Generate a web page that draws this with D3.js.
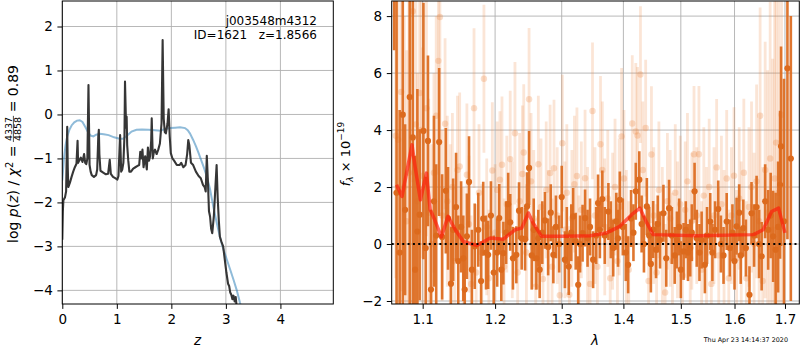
<!DOCTYPE html>
<html><head><meta charset="utf-8">
<script src="https://cdn.jsdelivr.net/npm/d3@7"></script>
<style>
body{margin:0;background:#fff;}
text{font-family:"DejaVu Sans",sans-serif;}
</style></head>
<body><svg id="c" width="800" height="350"></svg>
<script>
// ---------- Left panel data: log p(z) ----------
const zPz = [0.00,0.01,0.02,0.05,0.07,0.09,0.10,0.11,0.14,0.17,0.20,0.23,0.26,0.28,0.29,0.31,0.34,0.37,0.40,0.42,0.44,0.46,0.48,0.50,0.52,0.54,0.58,0.62,0.64,0.66,0.67,0.68,0.70,0.75,0.80,0.84,0.87,0.89,0.93,0.97,1.01,1.03,1.06,1.08,1.10,1.12,1.14,1.15,1.17,1.18,1.19,1.21,1.23,1.26,1.30,1.34,1.38,1.41,1.43,1.45,1.47,1.49,1.52,1.55,1.57,1.59,1.61,1.63,1.64,1.66,1.68,1.70,1.73,1.76,1.79,1.82,1.84,1.86,1.88,1.90,1.93,1.95,1.97,1.99,2.02,2.05,2.10,2.15,2.18,2.22,2.26,2.29,2.31,2.33,2.36,2.40,2.45,2.50,2.54,2.58,2.61,2.63,2.65,2.67,2.69,2.71,2.73,2.75,2.78,2.81,2.83,2.85,2.87,2.89,2.92,2.95,2.98,3.01,3.04,3.06,3.08,3.10,3.12,3.14,3.16,3.18,3.20];
const logPz = [-2.85,-2.2,-1.95,-1.88,-1.75,-0.28,-1.2,-1.65,-1.55,-1.42,-1.3,-1.2,-1.12,-0.6,-1.1,-1.05,-0.98,-1.08,-0.9,-1.1,-1.13,-1.0,0.67,-1.15,-1.3,-1.38,-1.42,-1.38,-1.25,-0.5,-0.35,-0.9,-1.28,-1.32,-1.36,-1.35,-1.03,-1.35,-1.42,-1.45,-1.48,-1.4,-0.47,-1.3,-1.25,-1.1,-0.5,0.75,-0.3,-0.05,-0.7,-1.05,-1.3,-1.3,-1.23,-1.2,-1.17,-1.15,-0.85,-1.0,-0.8,-1.2,-0.95,-1.25,-0.75,-1.05,-0.95,-0.6,-0.09,-1.0,-0.85,-0.8,-0.9,-0.8,-0.66,-0.2,1.69,-0.1,-0.4,-0.43,-0.2,0.12,-0.5,-0.88,-1.0,-1.05,-1.15,-1.15,-1.1,-1.2,-1.15,-0.9,-0.58,-0.7,-1.1,-1.15,-1.3,-1.4,-1.45,-1.6,-1.65,-1.75,-0.94,-1.5,-2.2,-2.32,-2.6,-2.7,-2.3,-1.6,-1.15,-1.9,-2.4,-2.78,-2.9,-3.0,-3.3,-3.6,-3.85,-3.9,-4.05,-4.1,-4.2,-4.12,-4.25,-4.15,-4.4];
const zPrior = [0.00,0.03,0.06,0.09,0.13,0.17,0.22,0.27,0.32,0.37,0.42,0.47,0.52,0.57,0.62,0.69,0.76,0.85,0.95,1.05,1.12,1.19,1.27,1.36,1.46,1.58,1.70,1.80,1.88,1.98,2.07,2.16,2.25,2.30,2.34,2.40,2.45,2.50,2.55,2.60,2.65,2.71,2.77,2.83,2.89,2.95,3.02,3.08,3.14,3.20,3.26,3.30];
const logPrior = [-1.5,-1.0,-0.7,-0.5,-0.35,-0.25,-0.18,-0.14,-0.13,-0.17,-0.28,-0.4,-0.48,-0.5,-0.46,-0.44,-0.45,-0.47,-0.52,-0.55,-0.55,-0.48,-0.39,-0.35,-0.34,-0.35,-0.36,-0.37,-0.33,-0.31,-0.3,-0.29,-0.31,-0.36,-0.43,-0.58,-0.72,-0.88,-1.05,-1.22,-1.41,-1.7,-2.1,-2.45,-2.78,-3.05,-3.31,-3.53,-3.76,-4.0,-4.29,-4.45];
const zTicks = [0,1,2,3,4];
const pzTicks = [-4,-3,-2,-1,0,1,2];

// ---------- Right panel data: spectrum ----------
const lamA = [1.063,1.066,1.070,1.074,1.077,1.083,1.087,1.090,1.093,1.096,1.101,1.104,1.107,1.111,1.115,1.118,1.122,1.126,1.131,1.134,1.138,1.141,1.145,1.148,1.152,1.155,1.157,1.160,1.163,1.167,1.171,1.176,1.180,1.183,1.187,1.190,1.194,1.198,1.203,1.206,1.209,1.212,1.216,1.219,1.222,1.226,1.231,1.235,1.239,1.244,1.247,1.250,1.254,1.257,1.261,1.264,1.266,1.270,1.274,1.279,1.283,1.287,1.291,1.296,1.300,1.305,1.308,1.311,1.315,1.318,1.322,1.326,1.329,1.333,1.337,1.341,1.345,1.350,1.355,1.358,1.361,1.365,1.369,1.375,1.379,1.383,1.388,1.391,1.394,1.399,1.404,1.408,1.413,1.417,1.421,1.427,1.431,1.435,1.440,1.444,1.447,1.451,1.456,1.459,1.463,1.469,1.474,1.479,1.484,1.489,1.493,1.497,1.500,1.505,1.509,1.513,1.517,1.520,1.525,1.529,1.534,1.538,1.544,1.548,1.554,1.558,1.563,1.569,1.574,1.579,1.585,1.591,1.596,1.600,1.604,1.609,1.612,1.617,1.622,1.629,1.633,1.638,1.643,1.648,1.653,1.660,1.666,1.671,1.676,1.681,1.686,1.690,1.692,1.698,1.705,1.712];
const fluxA = [11.5,1.8,-0.3,4.54,1.2,5.16,3.74,-0.9,0.44,1.03,3.97,-0.14,3.62,-1.6,1.5,0.3,3.58,0.25,1.87,0.9,-1.39,0.5,1.3,-0.6,0.6,-0.5,-1.6,0.27,2.18,-0.9,-0.08,0.5,-1.3,0.89,-0.3,-0.38,1.0,-1.0,-0.3,0.91,-0.9,-0.32,0.4,1.4,0.76,-0.5,-0.38,1.17,0.2,0.17,1.32,2.67,-0.4,0.5,-0.5,0.2,-0.9,0.4,0.83,-0.1,1.1,-0.38,0.6,0.0,1.65,-0.55,0.3,-0.79,0.4,0.97,0.1,-1.43,0.0,0.38,0.91,0.2,0.6,-0.55,0.3,1.44,0.5,1.58,0.3,1.14,0.5,-0.14,0.8,0.2,1.55,0.6,-0.3,-0.73,0.9,0.4,1.85,2.26,0.7,0.0,1.32,0.3,-0.7,0.51,-0.2,0.7,0.14,1.08,-0.5,1.26,0.3,-0.4,0.14,0.6,-0.9,-0.26,0.5,-0.3,-0.14,0.4,1.85,0.2,-0.3,0.14,-0.73,0.3,0.79,-0.3,0.5,1.23,0.0,-0.4,0.79,-0.14,0.4,-0.6,0.62,1.1,-0.4,0.56,-0.14,-1.78,1.08,0.3,1.3,0.0,-0.43,1.5,0.5,1.0,0.27,-0.2,0.6,2.08,3.43,0.8,6.17,3.0];
const errA = [4.7,7,5,7,3,8,6,4,5,3,4.5,2.5,3,2.8,3,2.5,2.6,2.2,2.2,1.8,2,1.8,1.9,1.6,1.6,1.5,1.6,1.5,1.6,1.4,1.5,1.3,1.4,1.3,1.3,1.2,1.2,1.3,1.2,1.2,1.1,1.1,1.1,1.1,1.0,1.1,1.0,1.0,1.1,1.1,1.2,1.3,1.2,1.1,1.1,1.0,1.0,1.1,1.0,1.0,1.0,1.0,1.1,1.0,1.1,1.0,1.0,1.0,1.0,1.0,1.0,1.0,1.0,1.0,1.0,1.0,1.0,1.0,1.0,1.0,1.0,1.0,1.0,1.0,1.0,1.0,1.0,1.0,1.0,1.0,1.0,1.0,1.0,1.0,1.0,1.0,1.0,1.0,1.0,1.0,1.0,1.0,1.0,1.0,1.0,1.0,1.0,1.0,1.0,1.0,1.0,1.0,1.0,1.0,1.0,1.0,1.0,1.0,1.0,1.0,1.0,1.0,1.0,1.0,1.0,1.0,1.0,1.0,1.0,1.0,1.0,1.0,1.0,1.0,1.0,1.0,1.0,1.0,1.0,1.0,1.1,1.1,1.1,1.2,1.2,1.3,1.4,1.5,1.6,2.0,2.3,2.6,3.5,5,6,5,9,10];

const lamB = [1.065,1.068,1.072,1.076,1.079,1.082,1.087,1.091,1.093,1.096,1.098,1.100,1.105,1.108,1.112,1.115,1.118,1.121,1.123,1.126,1.130,1.133,1.137,1.140,1.143,1.147,1.150,1.155,1.160,1.163,1.166,1.170,1.173,1.177,1.181,1.184,1.188,1.191,1.196,1.200,1.203,1.207,1.210,1.213,1.217,1.222,1.225,1.229,1.233,1.236,1.240,1.242,1.246,1.250,1.253,1.257,1.260,1.264,1.268,1.271,1.276,1.279,1.282,1.285,1.288,1.293,1.297,1.301,1.305,1.308,1.312,1.316,1.320,1.324,1.327,1.331,1.337,1.341,1.345,1.349,1.353,1.357,1.362,1.365,1.369,1.374,1.378,1.382,1.386,1.390,1.393,1.397,1.401,1.405,1.409,1.415,1.421,1.424,1.429,1.433,1.438,1.443,1.448,1.452,1.457,1.461,1.467,1.472,1.476,1.481,1.485,1.490,1.494,1.499,1.503,1.508,1.512,1.517,1.520,1.524,1.529,1.533,1.538,1.542,1.547,1.552,1.556,1.561,1.566,1.570,1.575,1.580,1.585,1.589,1.594,1.599,1.604,1.609,1.613,1.618,1.623,1.628,1.633,1.638,1.643,1.648,1.650,1.655,1.660,1.665,1.670,1.675,1.679,1.682,1.687,1.693,1.698,1.702];
const fluxB = [3.8,3.66,5.34,2.0,0.8,2.5,8.17,4.2,1.5,5.3,4.0,2.4,4.77,1.1,0.0,2.5,4.5,6.43,7.97,1.0,4.22,1.5,0.7,2.0,-0.6,2.6,2.72,-0.5,2.43,0.7,-1.4,4.77,-1.0,1.8,-0.3,5.8,0.6,-1.2,2.58,0.4,1.9,2.26,2.78,-0.8,1.4,2.98,0.5,3.89,-1.0,1.5,2.46,3.21,-0.3,5.08,2.2,0.9,-1.5,2.8,1.3,-1.23,1.9,0.2,2.49,-0.8,2.66,1.0,-1.8,3.54,0.5,1.8,-1.78,0.9,2.1,2.39,-0.7,1.2,2.31,0.3,-1.4,4.67,1.0,-0.8,3.5,2.6,0.6,1.6,-1.2,0.8,2.0,-0.6,1.3,3.78,2.3,0.2,-0.9,4.23,3.95,3.81,5.95,2.6,4.07,-1.3,3.14,1.0,-1.0,1.9,0.3,-1.7,1.5,0.9,-0.6,1.8,0.5,1.4,-1.1,1.2,2.2,-0.5,0.8,3.15,1.0,3.15,-0.9,1.7,0.3,2.0,-1.4,1.0,2.69,-0.4,1.4,0.2,2.3,-1.2,1.0,2.4,-0.5,1.6,0.4,2.5,-1.2,1.3,2.0,0.0,2.2,0.8,4.5,-1.3,2.6,1.1,3.0,0.5,2.3,3.56,1.8,4.54,2.0,3.0];
const errB = [5,6,7,6,6,6,6,5,4.5,5,4.5,4.5,4.5,4,3.5,3.5,3.5,4,4.5,3,3,3,2.8,2.6,2.6,2.6,2.6,2.5,2.5,2.4,2.4,2.8,2.4,2.4,2.4,2.6,2.4,2.4,2.4,2.4,2.4,2.4,2.4,2.4,2.4,2.4,2.4,2.5,2.4,2.4,2.4,2.4,2.4,2.5,2.4,2.4,2.4,2.4,2.4,2.4,2.4,2.4,2.4,2.4,2.4,2.4,2.4,2.4,2.4,2.4,2.4,2.4,2.4,2.4,2.4,2.4,2.4,2.4,2.4,2.4,2.4,2.4,2.4,2.4,2.4,2.4,2.4,2.4,2.4,2.4,2.4,2.4,2.4,2.4,2.4,2.4,2.4,2.4,2.4,2.4,2.4,2.4,2.4,2.4,2.4,2.4,2.4,2.4,2.4,2.4,2.4,2.4,2.4,2.4,2.4,2.4,2.4,2.4,2.4,2.4,2.4,2.4,2.4,2.4,2.4,2.4,2.4,2.4,2.4,2.4,2.4,2.4,2.4,2.4,2.4,2.4,2.4,2.5,2.5,2.6,2.7,2.8,3.0,3.2,3.4,3.6,3.8,4.0,4.5,5,5.5,6,7,8,9,10];

const lamModel = [1.066,1.073,1.086,1.090,1.097,1.105,1.110,1.116,1.125,1.134,1.144,1.155,1.174,1.193,1.212,1.229,1.239,1.249,1.256,1.269,1.302,1.345,1.372,1.394,1.414,1.428,1.440,1.451,1.529,1.637,1.656,1.673,1.687,1.700];
const fluxModel = [2.08,1.67,3.48,2.72,1.55,2.49,1.20,0.85,0.25,0.97,0.50,0.09,-0.05,0.21,0.17,0.50,0.56,1.09,0.74,0.27,0.27,0.29,0.39,0.62,1.03,1.26,0.74,0.33,0.29,0.33,0.50,1.14,1.26,0.39];
const lamTicks = [1.1,1.2,1.3,1.4,1.5,1.6,1.7];
const fluxTicks = [-2,0,2,4,6,8];

// ---------- Drawing ----------
const svg = d3.select('#c');
const L = {x0:62.3, x1:333.3, y0:1, y1:304};
const R = {x0:391.7, x1:799.3, y0:1, y1:304};
const xL = d3.scaleLinear().domain([0,4.97]).range([L.x0,L.x1]);
const yL = d3.scaleLinear().domain([-4.31,2.58]).range([L.y1,L.y0]);
const xR = d3.scaleLog().domain([1.0598,1.7295]).range([R.x0,R.x1]);
const yR = d3.scaleLinear().domain([-2.105,8.53]).range([R.y1,R.y0]);
const gridC = '#b0b0b0', FS = 13.5;

const defs = svg.append('defs');
defs.append('clipPath').attr('id','cl').append('rect').attr('x',L.x0).attr('y',L.y0).attr('width',L.x1-L.x0).attr('height',L.y1-L.y0);
defs.append('clipPath').attr('id','cr').append('rect').attr('x',R.x0).attr('y',R.y0).attr('width',R.x1-R.x0).attr('height',R.y1-R.y0);

function grid(P, xs, ys, xt, yt){
  const g = svg.append('g');
  g.selectAll('.gx').data(xt).join('line').attr('x1',d=>xs(d)).attr('x2',d=>xs(d)).attr('y1',P.y0).attr('y2',P.y1).attr('stroke',gridC).attr('stroke-width',0.9);
  g.selectAll('.gy').data(yt).join('line').attr('y1',d=>ys(d)).attr('y2',d=>ys(d)).attr('x1',P.x0).attr('x2',P.x1).attr('stroke',gridC).attr('stroke-width',0.9);
}
function axes(P, xs, ys, xt, yt, xf, yf){
  const ax = svg.append('g').attr('transform',`translate(0,${P.y1})`)
    .call(d3.axisBottom(xs).tickValues(xt).tickFormat(xf).tickSize(4.9).tickPadding(5.2));
  const ay = svg.append('g').attr('transform',`translate(${P.x0},0)`)
    .call(d3.axisLeft(ys).tickValues(yt).tickFormat(yf).tickSize(4.9).tickPadding(4.6));
  [ax,ay].forEach(a=>{a.select('.domain').remove(); a.selectAll('text').attr('font-size',FS).attr('fill','#000').attr('font-family','DejaVu Sans');});
  svg.append('rect').attr('x',P.x0).attr('y',P.y0).attr('width',P.x1-P.x0).attr('height',P.y1-P.y0).attr('fill','none').attr('stroke','#000').attr('stroke-width',1);
}

// Left panel
grid(L, xL, yL, zTicks, pzTicks);
const gl = svg.append('g').attr('clip-path','url(#cl)');
gl.append('path').datum(d3.zip(zPrior,logPrior)).attr('d',d3.line().x(d=>xL(d[0])).y(d=>yL(d[1])))
  .attr('fill','none').attr('stroke','#1f77b4').attr('stroke-opacity',0.5).attr('stroke-width',2);
gl.append('path').datum(d3.zip(zPz,logPz)).attr('d',d3.line().x(d=>xL(d[0])).y(d=>yL(d[1])))
  .attr('fill','none').attr('stroke','#363636').attr('stroke-width',2.1).attr('stroke-linejoin','round');
axes(L, xL, yL, zTicks, pzTicks, d3.format('d'), d3.format('d'));
svg.append('text').attr('x',317).attr('y',24.5).attr('text-anchor','end').attr('font-size',12).text('j003548m4312');
svg.append('text').attr('x',317).attr('y',38.5).attr('text-anchor','end').attr('font-size',12).attr('xml:space','preserve').style('white-space','pre').text('ID=1621   z=1.8566');
svg.append('text').attr('x',xL(2.48)).attr('y',345).attr('text-anchor','middle').attr('font-size',FS).attr('font-style','italic').text('z');

// Left y label
{
  const g = svg.append('g').attr('transform','translate(18,154) rotate(-90)');
  const t1 = g.append('text').attr('font-size',14);
  t1.append('tspan').text('log ');
  t1.append('tspan').attr('font-style','italic').text('p');
  t1.append('tspan').text('(');
  t1.append('tspan').attr('font-style','italic').text('z');
  t1.append('tspan').text(') / ');
  t1.append('tspan').attr('font-style','italic').text('χ');
  t1.append('tspan').attr('font-size',10).attr('dy',-5.5).text('2');
  t1.append('tspan').attr('dy',5.5).text(' =');
  const w1 = t1.node().getComputedTextLength();
  const num = g.append('text').attr('font-size',9.5).attr('text-anchor','middle').text('4337');
  const den = g.append('text').attr('font-size',9.5).attr('text-anchor','middle').text('4858');
  const wf = Math.max(num.node().getComputedTextLength(), den.node().getComputedTextLength()) + 2;
  const t2 = g.append('text').attr('font-size',14).text('= 0.89');
  const w2 = t2.node().getComputedTextLength();
  const gap = 3.5;
  const total = w1 + gap + wf + gap + w2;
  const s = -total/2;
  t1.attr('x', s);
  const fc = s + w1 + gap + wf/2;
  num.attr('x', fc).attr('y', -6.3);
  den.attr('x', fc).attr('y', 2.8);
  g.append('line').attr('x1',fc-wf/2).attr('x2',fc+wf/2).attr('y1',-4.6).attr('y2',-4.6).attr('stroke','#000').attr('stroke-width',0.7);
  t2.attr('x', s + w1 + gap + wf + gap);
}

// Right panel
grid(R, xR, yR, lamTicks, fluxTicks);
const gr = svg.append('g').attr('clip-path','url(#cr)');
const orange = '#dc6a1d';
const light = '#ec8a44';
const B = d3.zip(lamB,fluxB,errB);
const A = d3.zip(lamA,fluxA,errA);
gr.selectAll('.eb').data(B).join('line').attr('x1',d=>xR(d[0])).attr('x2',d=>xR(d[0]))
  .attr('y1',d=>yR(d[1]-d[2])).attr('y2',d=>yR(d[1]+d[2])).attr('stroke',light).attr('stroke-opacity',0.22).attr('stroke-width',2.8);
gr.selectAll('.mb').data(B).join('circle').attr('cx',d=>xR(d[0])).attr('cy',d=>yR(d[1])).attr('r',3.2)
  .attr('fill',light).attr('fill-opacity',0.28);
gr.selectAll('.ea').data(A).join('line').attr('x1',d=>xR(d[0])).attr('x2',d=>xR(d[0]))
  .attr('y1',d=>yR(d[1]-d[2])).attr('y2',d=>yR(d[1]+d[2])).attr('stroke',orange).attr('stroke-opacity',0.92).attr('stroke-width',2.6);
gr.selectAll('.ma').data(A).join('circle').attr('cx',d=>xR(d[0])).attr('cy',d=>yR(d[1])).attr('r',3.1)
  .attr('fill',orange);
gr.append('path').datum(d3.zip(lamModel,fluxModel)).attr('d',d3.line().x(d=>xR(d[0])).y(d=>yR(d[1])))
  .attr('fill','none').attr('stroke','#ff1a0a').attr('stroke-opacity',0.65).attr('stroke-width',3.5).attr('stroke-linejoin','round');
gr.append('line').attr('x1',R.x0).attr('x2',R.x1).attr('y1',yR(0)).attr('y2',yR(0))
  .attr('stroke','#000').attr('stroke-width',2).attr('stroke-dasharray','2,3.3');
axes(R, xR, yR, lamTicks, fluxTicks, d3.format('.1f'), d3.format('d'));
svg.append('text').attr('x',595).attr('y',345).attr('text-anchor','middle').attr('font-size',FS).attr('font-style','italic').text('λ');
{
  const g = svg.append('g').attr('transform','translate(349.5,154) rotate(-90)');
  const t = g.append('text').attr('font-size',13).attr('text-anchor','middle');
  t.append('tspan').attr('font-style','italic').text('f');
  t.append('tspan').attr('font-size',9).attr('font-style','italic').attr('dy',3).text('λ');
  t.append('tspan').attr('dy',-3).text(' × 10');
  t.append('tspan').attr('font-size',9).attr('dy',-5.5).text('−19');
}
svg.append('text').attr('x',788).attr('y',342).attr('text-anchor','end').attr('font-size',6.4).text('Thu Apr 23 14:14:37 2020');
</script></body></html>
